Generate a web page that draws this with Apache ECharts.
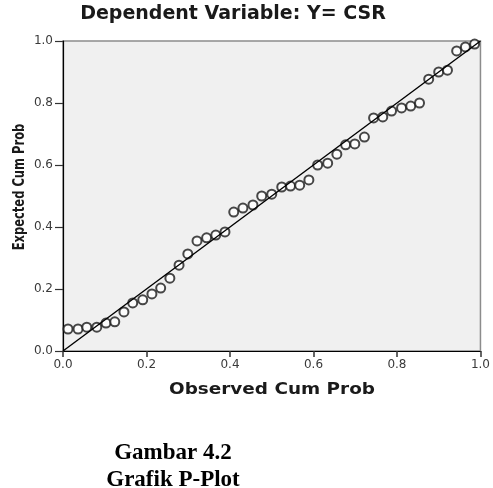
<!DOCTYPE html>
<html>
<head>
<meta charset="utf-8">
<script src="https://cdn.jsdelivr.net/npm/echarts@6/dist/echarts.min.js"></script>
<style>
html,body{margin:0;padding:0;background:#fff;}
#chart{width:493px;height:488px;}
</style>
</head>
<body>
<div id="chart"></div>
<script>
var chartTitle = 'Dependent Variable: Y= CSR';
var xAxisName = 'Observed Cum Prob';
var yAxisName = 'Expected Cum Prob';
var captionLines = ['Gambar 4.2', 'Grafik P-Plot'];
var tickLabels = ['0.0', '0.2', '0.4', '0.6', '0.8', '1.0'];

var observedCumProb = [0.012,0.036,0.057,0.081,0.103,0.124,0.146,0.167,0.191,0.213,
  0.234,0.256,0.278,0.299,0.321,0.344,0.366,0.388,0.409,0.431,
  0.455,0.476,0.500,0.524,0.545,0.567,0.589,0.610,0.634,0.656,
  0.677,0.699,0.722,0.744,0.766,0.787,0.811,0.833,0.854,0.876,
  0.900,0.921,0.943,0.964,0.986];
var expectedCumProb = [0.071,0.071,0.077,0.077,0.090,0.094,0.126,0.155,0.165,0.184,
  0.203,0.235,0.277,0.313,0.355,0.365,0.374,0.384,0.448,0.461,
  0.471,0.500,0.506,0.529,0.532,0.535,0.552,0.600,0.606,0.635,
  0.665,0.668,0.690,0.752,0.755,0.774,0.784,0.790,0.800,0.877,
  0.900,0.906,0.968,0.981,0.990];
var refLine = [[0,0],[1,1]];

var points = observedCumProb.map(function(x,i){return [x, expectedCumProb[i]];});

var chart = echarts.init(document.getElementById('chart'), null, {renderer:'canvas'});
var labelFmt = function(v){ return tickLabels[Math.round(v*5)]; };
chart.setOption({
  animation:false,
  backgroundColor:'#ffffff',
  grid:{left:63,right:12,top:41,bottom:137,show:true,backgroundColor:'#f0f0f0',borderColor:'#8c8c8c',borderWidth:1.5},
  xAxis:{type:'value',min:0,max:1,interval:0.2,
    axisLine:{show:true,lineStyle:{color:'#000',width:1.2}},
    axisTick:{show:true,length:6,lineStyle:{color:'#333',width:1.5}},
    axisLabel:{formatter:labelFmt,color:'#3a3a3a',fontFamily:'DejaVu Sans',fontSize:12,margin:8},
    splitLine:{show:false}},
  yAxis:{type:'value',min:0,max:1,interval:0.2,
    axisLine:{show:true,lineStyle:{color:'#000',width:1.2}},
    axisTick:{show:true,length:8,lineStyle:{color:'#333',width:1.2}},
    axisLabel:{formatter:labelFmt,color:'#3a3a3a',fontFamily:'DejaVu Sans',fontSize:12,margin:10},
    splitLine:{show:false}},
  graphic:[
    {type:'text',x:233,y:14,style:{text:chartTitle,font:'bold 19px "DejaVu Sans"',fill:'#1a1a1a',align:'center',verticalAlign:'middle'}},
    {type:'text',x:272,y:390,scaleX:1.15,style:{text:xAxisName,font:'bold 16px "DejaVu Sans"',fill:'#1a1a1a',align:'center',verticalAlign:'middle'}},
    {type:'text',x:20,y:187,rotation:Math.PI/2,scaleX:0.8,style:{text:yAxisName,font:'bold 16px "Liberation Sans Narrow", "DejaVu Sans Condensed", sans-serif',fill:'#1a1a1a',align:'center',verticalAlign:'middle'}},
    {type:'text',x:173,y:453,style:{text:captionLines[0],font:'bold 23px "Liberation Serif"',fill:'#000',align:'center',verticalAlign:'middle'}},
    {type:'text',x:173,y:480,style:{text:captionLines[1],font:'bold 23px "Liberation Serif"',fill:'#000',align:'center',verticalAlign:'middle'}}
  ],
  series:[
    {type:'scatter',data:points,symbol:'emptyCircle',symbolSize:9,
      itemStyle:{color:'#1a1a1a',borderColor:'#1a1a1a',borderWidth:1.3},z:2},
    {type:'line',data:refLine,symbol:'none',lineStyle:{color:'#000',width:1.4},z:3}
  ]
});
</script>
</body>
</html>
